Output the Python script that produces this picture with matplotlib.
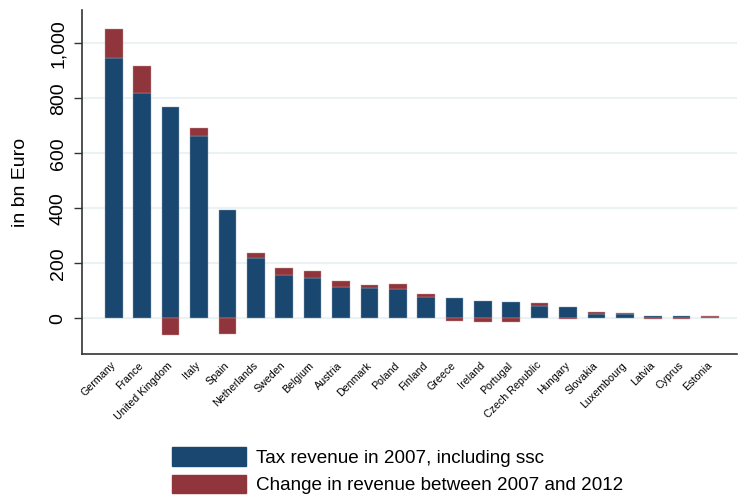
import matplotlib.pyplot as plt
import numpy as np
from matplotlib.ticker import FuncFormatter
from matplotlib.patches import Patch

countries = ["Germany", "France", "United Kingdom", "Italy", "Spain", "Netherlands",
             "Sweden", "Belgium", "Austria", "Denmark", "Poland", "Finland", "Greece",
             "Ireland", "Portugal", "Czech Republic", "Hungary", "Slovakia",
             "Luxembourg", "Latvia", "Cyprus", "Estonia"]
revenue_2007 = [948, 818, 768, 664, 393, 220, 159, 147, 114, 110, 107, 76, 74,
                62, 59, 46, 42, 17, 14, 8, 8, 6]
change_2007_2012 = [104, 99, -62, 28, -57, 17, 24, 25, 22, 10, 19, 11, -9,
                    -15, -14, 10, -4, 6, 5, -2, -1, 2]

blue = "#1a476f"
red = "#90353b"

plt.rcParams["font.family"] = ["Liberation Sans", "DejaVu Sans"]

fig = plt.figure(figsize=(7.38, 4.96), dpi=100)
ax = fig.add_axes([82 / 738, 1 - 354 / 496, 655 / 738, 344 / 496])

x = np.arange(len(countries))
rev = np.array(revenue_2007)
chg = np.array(change_2007_2012)
# positive changes sit on top of the 2007 bar, negative ones hang below zero
red_bottom = np.where(chg > 0, rev, 0)

ax.bar(x, rev, width=0.62, color=blue, edgecolor="#8fa6bb", linewidth=0.3, zorder=3)
ax.bar(x, chg, bottom=red_bottom, width=0.62, color=red, edgecolor="#c79a9d",
       linewidth=0.3, zorder=3)

ax.set_xlim(-1.12, 21.95)
ax.set_ylim(-130, 1121)
ax.set_yticks([0, 200, 400, 600, 800, 1000])
ax.yaxis.set_major_formatter(FuncFormatter(lambda v, p: f"{int(v):,}"))
ax.grid(axis="y", color="#eaf2f3", linewidth=1.5, zorder=0)
ax.set_axisbelow(True)

for lab in ax.get_yticklabels():
    lab.set_rotation(90)
    lab.set_va("center")
ax.tick_params(axis="y", labelsize=14, length=6, width=1, color="#333333", pad=5)
ax.set_ylabel("in bn Euro", fontsize=14, labelpad=15)

ax.set_xticks(x)
ax.set_xticklabels(countries, rotation=45, ha="right", va="center",
                   rotation_mode="anchor", fontsize=7.7)
ax.tick_params(axis="x", length=0, pad=7)

for s in ["top", "right"]:
    ax.spines[s].set_visible(False)
for s in ["left", "bottom"]:
    ax.spines[s].set_color("#333333")
    ax.spines[s].set_linewidth(1.2)

handles = [Patch(facecolor=blue, edgecolor=blue),
           Patch(facecolor=red, edgecolor=red)]
fig.legend(handles, ["Tax revenue in 2007, including ssc",
                     "Change in revenue between 2007 and 2012"],
           loc="upper left", bbox_to_anchor=(172 / 738, 1 - 447 / 496),
           frameon=False, fontsize=13.6, borderpad=0, borderaxespad=0,
           handlelength=3.9, handleheight=1.15, handletextpad=0.55,
           labelspacing=0.42)

fig.savefig("out.png", dpi=100)
